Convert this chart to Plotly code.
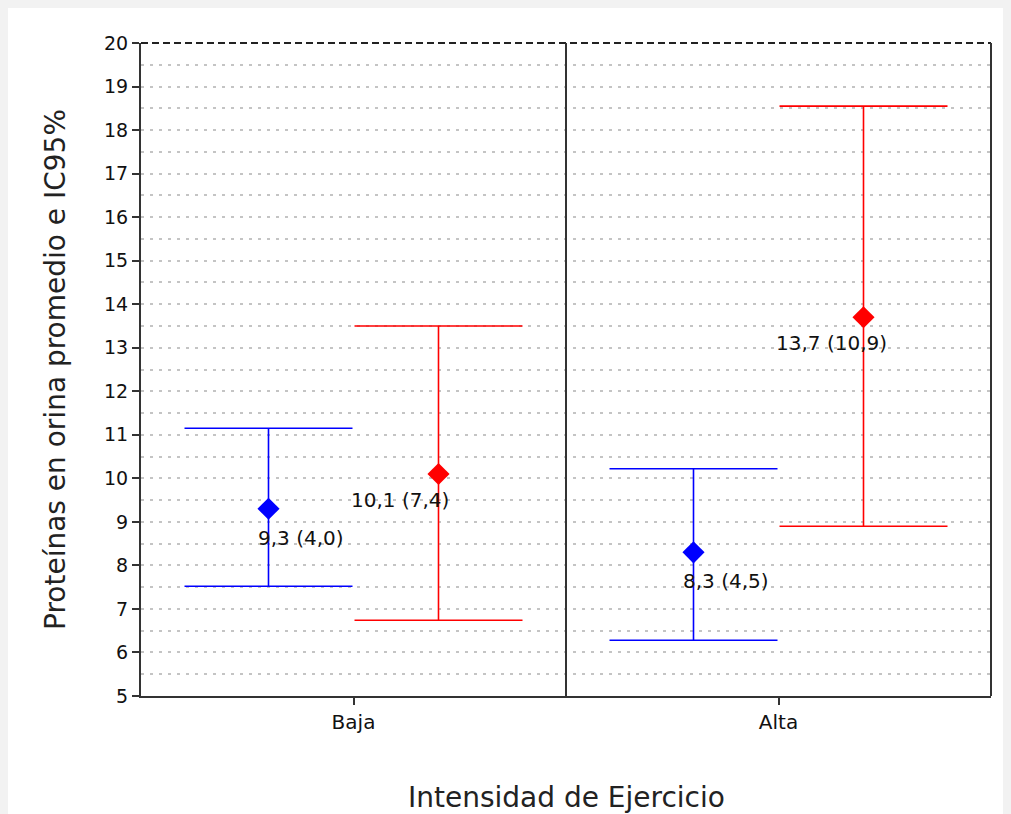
import plotly.graph_objects as go

# ---- data ----
groups = ["Baja", "Alta"]
group_pos = [0.5, 1.5]

blue_mean = [9.3, 8.3]
blue_upper = [11.15, 10.22]
blue_lower = [7.52, 6.28]
blue_sd = [4.0, 4.5]

red_mean = [10.1, 13.7]
red_upper = [13.5, 18.55]
red_lower = [6.74, 8.9]
red_sd = [7.4, 10.9]

y_ticks = list(range(5, 21))

x_title = "Intensidad de Ejercicio"
y_title = "Proteínas en orina promedio e IC95%"

FONT = "DejaVu Sans"

def fmt(v):
    return f"{v:.1f}".replace(".", ",")

series = [
    dict(mean=blue_mean, up=blue_upper, lo=blue_lower, sd=blue_sd, color="#0000ff",
         offset=-0.2, xshift=-13, yshift=-29),
    dict(mean=red_mean, up=red_upper, lo=red_lower, sd=red_sd, color="#ff0000",
         offset=0.2, xshift=-90, yshift=-26),
]

fig = go.Figure()
annotations = []
for s in series:
    xs = [p + s["offset"] for p in group_pos]
    fig.add_trace(go.Scatter(
        x=xs, y=s["mean"], mode="markers",
        marker=dict(symbol="diamond", size=17, color=s["color"]),
        error_y=dict(type="data", symmetric=False,
                     array=[u - m for u, m in zip(s["up"], s["mean"])],
                     arrayminus=[m - l for m, l in zip(s["mean"], s["lo"])],
                     color=s["color"], thickness=1.6, width=84),
        showlegend=False, hoverinfo="skip",
    ))
    for x, m, sd in zip(xs, s["mean"], s["sd"]):
        annotations.append(dict(
            x=x, y=m, xref="x", yref="y", text=f"{fmt(m)} ({fmt(sd)})",
            showarrow=False, xanchor="left", yanchor="middle",
            xshift=s["xshift"], yshift=s["yshift"],
            font=dict(family=FONT, size=20, color="#111111"),
        ))

# x-axis title as annotation (to sit low without shrinking the plot)
annotations.append(dict(
    x=0.5, y=-0.156, xref="paper", yref="paper", text=x_title,
    showarrow=False, xanchor="center", yanchor="middle",
    font=dict(family=FONT, size=28, color="#222222"),
))

shapes = [
    # top dashed border
    dict(type="line", xref="paper", yref="paper", x0=0, x1=1, y0=1, y1=1,
         line=dict(color="#222222", width=2, dash="7px,4px")),
    # right border
    dict(type="line", xref="paper", yref="paper", x0=1, x1=1, y0=0, y1=1,
         line=dict(color="#333333", width=2)),
    # group separator
    dict(type="line", xref="x", yref="paper", x0=1, x1=1, y0=0, y1=1,
         line=dict(color="#333333", width=2)),
]

fig.update_layout(
    width=1004, height=806,
    margin=dict(l=133, r=21, t=35, b=118),
    paper_bgcolor="white",
    plot_bgcolor="white",
    font=dict(family=FONT, size=19, color="#111111"),
    shapes=shapes,
    annotations=annotations,
    xaxis=dict(
        range=[0, 2], tickvals=group_pos, ticktext=groups,
        showgrid=False, zeroline=False,
        showline=True, linecolor="#333333", linewidth=2,
        ticks="outside", ticklen=7, tickcolor="#333333", tickwidth=1.5,
        tickfont=dict(family=FONT, size=20, color="#111111"),
    ),
    yaxis=dict(
        range=[5, 20], tickvals=y_ticks,
        showgrid=True, gridcolor="#c4c4c4", gridwidth=1.5, griddash="3px,6px",
        minor=dict(dtick=0.5, showgrid=True, gridcolor="#c4c4c4", gridwidth=1.5,
                   griddash="3px,6px", ticks=""),
        zeroline=False,
        showline=True, linecolor="#333333", linewidth=2,
        ticks="outside", ticklen=7, tickcolor="#333333", tickwidth=1.5,
        tickfont=dict(family=FONT, size=19, color="#111111"),
        title=dict(text=y_title, standoff=30,
                   font=dict(family=FONT, size=28, color="#222222")),
    ),
)

fig.write_html("out.html", post_script="document.body.style.background='#f2f2f2';")
